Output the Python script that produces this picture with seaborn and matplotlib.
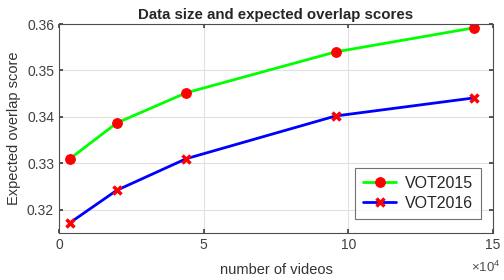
import pandas as pd
import seaborn as sns
import matplotlib.pyplot as plt

# values
videos = [3800, 20000, 44000, 95600, 143500]
vot2015 = [0.3310, 0.3387, 0.3452, 0.3540, 0.3592]
vot2016 = [0.3172, 0.3242, 0.3310, 0.3402, 0.3441]
series_names = ["VOT2015", "VOT2016"]
x_ticks = [0, 50000, 100000, 150000]
y_ticks = [0.32, 0.33, 0.34, 0.35, 0.36]

sns.set_theme(style="ticks")
plt.rcParams["font.family"] = ["Liberation Sans", "DejaVu Sans"]
plt.rcParams["mathtext.fontset"] = "custom"
plt.rcParams["mathtext.rm"] = "Liberation Sans"
plt.rcParams["xtick.direction"] = "in"
plt.rcParams["ytick.direction"] = "in"

df_a = pd.DataFrame({"videos": videos, "score": vot2015})
df_b = pd.DataFrame({"videos": videos, "score": vot2016})

fig = plt.figure(figsize=(5.04, 2.8), dpi=100)
ax = fig.add_axes([0.117, 0.168, 0.861, 0.746])

sns.lineplot(data=df_a, x="videos", y="score", ax=ax, color=(0, 1, 0), lw=2,
             marker="o", ms=7, mfc="red", mec="red", label=series_names[0])
sns.lineplot(data=df_b, x="videos", y="score", ax=ax, color=(0, 0, 1), lw=2,
             marker="x", ms=6, mfc="red", mec="red", mew=2.5, label=series_names[1])

ax.set_xlim(0, 150000)
ax.set_ylim(0.315, 0.36)
ax.set_xticks(x_ticks)
ax.set_yticks(y_ticks)
ax.xaxis.set_major_formatter(plt.FuncFormatter(lambda v, p: f"{v / 1e4:g}"))
ax.yaxis.set_major_formatter(plt.FuncFormatter(lambda v, p: f"{v:.2f}"))
ax.text(1.018, -0.165, r"$\times10^4$", transform=ax.transAxes, ha="right",
        va="center", fontsize=9.5, color="0.3")

ax.grid(True, color="0.88", lw=0.8)
ax.tick_params(top=True, right=True, labelsize=10, colors="0.25", length=3)
for s in ax.spines.values():
    s.set_color("0.3")
    s.set_linewidth(0.8)

ax.set_xlabel("number of videos", fontsize=10.5, color="0.2", labelpad=8)
ax.set_ylabel("Expected overlap score", fontsize=10.5, color="0.2")
ax.set_title("Data size and expected overlap scores", fontsize=10.8, fontweight="bold", pad=4)

leg = ax.legend(loc="lower right", fontsize=11.5, frameon=True, fancybox=False,
                edgecolor="0.3", borderpad=0.5, labelspacing=0.3,
                handlelength=2.1, handletextpad=0.5, bbox_to_anchor=(0.99, 0.03))
leg.get_frame().set_linewidth(0.8)

fig.savefig("out.png", dpi=100)
